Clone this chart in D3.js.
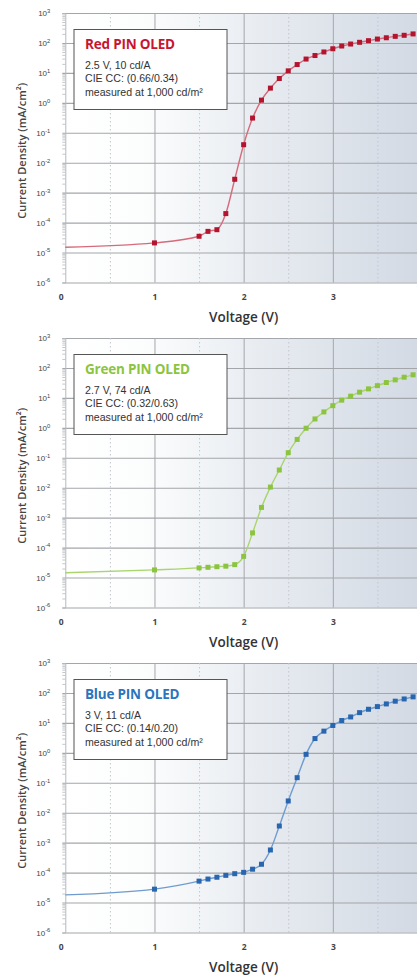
<!DOCTYPE html>
<html>
<head>
<meta charset="utf-8">
<script src="https://cdn.jsdelivr.net/npm/d3@7"></script>
<style>
  html, body { margin: 0; padding: 0; background: #ffffff; }
  svg { display: block; }
</style>
</head>
<body>
<script>
// Current density vs. voltage for three PIN OLED devices (log scale)
const voltage = [0, 1, 1.5, 1.6, 1.7, 1.8, 1.9, 2.0, 2.1, 2.2, 2.3, 2.4, 2.5, 2.6, 2.7,
                 2.8, 2.9, 3.0, 3.1, 3.2, 3.3, 3.4, 3.5, 3.6, 3.7, 3.8, 3.9];

const redDensity = [1.5e-5, 2.1e-5, 3.5e-5, 5.1e-5, 5.8e-5, 2.0e-4, 2.8e-3, 0.04, 0.31, 1.23, 3.1, 6.5,
                    11.7, 19, 29, 38, 50, 64, 79, 92, 105, 119, 135, 149, 166, 180, 200];
const greenDensity = [1.45e-5, 1.8e-5, 2.1e-5, 2.2e-5, 2.3e-5, 2.4e-5, 2.7e-5, 5.1e-5, 3.1e-4, 2.2e-3,
                      0.0105, 0.039, 0.148, 0.41, 0.97, 1.98, 3.4, 5.5, 8.4, 11.4, 15.5, 20, 25.6,
                      32.6, 40, 49, 59];
const blueDensity = [1.8e-5, 2.8e-5, 5.2e-5, 6.1e-5, 7.0e-5, 8.1e-5, 9.2e-5, 1.02e-4, 1.3e-4, 1.9e-4,
                     5.7e-4, 3.6e-3, 0.0247, 0.148, 0.89, 3.0, 5.3, 8.2, 12, 15.8, 22, 28.5, 35, 43,
                     53, 63, 74];

const deviceTitles = ["Red PIN OLED", "Green PIN OLED", "Blue PIN OLED"];
const deviceNotes = [
  ["2.5 V, 10 cd/A", "CIE CC: (0.66/0.34)", "measured at 1,000 cd/m²"],
  ["2.7 V, 74 cd/A", "CIE CC: (0.32/0.63)", "measured at 1,000 cd/m²"],
  ["3 V, 11 cd/A", "CIE CC: (0.14/0.20)", "measured at 1,000 cd/m²"]
];
const deviceSeries = [redDensity, greenDensity, blueDensity];

const yTickExponents = [3, 2, 1, 0, -1, -2, -3, -4, -5, -6];
const xTickValues = [0, 1, 2, 3];
const xHalfTicks = [0.5, 1.5, 2.5, 3.5];
const xAxisTitle = "Voltage (V)";
const yAxisTitle = "Current Density (mA/cm²)";

// colours per device: title, marker, connecting line
const titleColors = ["#c8152f", "#8cc43f", "#2c74bc"];
const markerColors = ["#b3142e", "#8cc43f", "#2866b0"];
const lineColors = ["#d56b7b", "#a9d46e", "#6f9bcf"];

const W = 417, H = 975;
const panelTop = 13, panelStep = 325, panelH = 269.5;
const plotLeft = 65.3, plotRight = 422;

const svg = d3.select("body").append("svg")
  .attr("width", W).attr("height", H)
  .style("overflow", "hidden");

const defs = svg.append("defs");
const grad = defs.append("linearGradient")
  .attr("id", "plotBg")
  .attr("x1", "0").attr("x2", "1").attr("y1", "0").attr("y2", "0");
[[0, "#ffffff"], [0.22, "#fcfdfd"], [0.55, "#e8ecf1"], [1, "#d3dae4"]].forEach(([o, c]) =>
  grad.append("stop").attr("offset", o).attr("stop-color", c));

const x = d3.scaleLinear().domain([0, 4]).range([plotLeft, plotRight]);
const y = d3.scaleLog().domain([1e-6, 1e3]).range([panelH, 0]);

const majors = yTickExponents.map(e => Math.pow(10, e));
const minors = [];
for (let e = -6; e < 3; e++) for (let m = 2; m <= 9; m++) minors.push(m * Math.pow(10, e));

deviceSeries.forEach((series, i) => {
  const g = svg.append("g").attr("transform", `translate(0,${panelTop + i * panelStep})`);

  // plot background
  g.append("rect")
    .attr("x", plotLeft).attr("y", 0)
    .attr("width", W - plotLeft).attr("height", panelH)
    .attr("fill", "url(#plotBg)");

  // horizontal decade grid
  const hGrid = g.append("g").attr("transform", `translate(${plotLeft},0)`)
    .call(d3.axisLeft(y).tickValues(majors).tickSize(-(W - plotLeft + 3)).tickFormat(""));
  hGrid.select(".domain").remove();
  hGrid.selectAll("line").attr("x1", 3 + W).attr("x2", -3)
    .attr("stroke", "#a3a6aa").attr("stroke-width", 1.1);

  // vertical grid: solid at whole volts, dotted at half volts
  const vGrid = g.append("g").attr("transform", `translate(0,${panelH})`)
    .call(d3.axisBottom(x).tickValues([1, 2, 3]).tickSize(-panelH).tickFormat(""));
  vGrid.select(".domain").remove();
  vGrid.selectAll("line").attr("stroke", "#a3a6aa").attr("stroke-width", 1);

  const vHalf = g.append("g").attr("transform", `translate(0,${panelH})`)
    .call(d3.axisBottom(x).tickValues(xHalfTicks).tickSize(-panelH).tickFormat(""));
  vHalf.select(".domain").remove();
  vHalf.selectAll("line").attr("stroke", "#c3c6cb").attr("stroke-width", 1)
    .attr("stroke-dasharray", "1.5,2.5");

  // left axis with minor log ticks
  const minorAxis = g.append("g").attr("transform", `translate(${plotLeft},0)`)
    .call(d3.axisLeft(y).tickValues(minors).tickSize(3).tickFormat(""));
  minorAxis.select(".domain").attr("stroke", "#b5b8bc");
  minorAxis.selectAll("line").attr("stroke", "#b5b8bc").attr("stroke-width", 0.8);

  // y tick labels 10^n
  const yLab = g.append("g").attr("transform", `translate(${plotLeft},0)`)
    .call(d3.axisLeft(y).tickValues(majors).tickSize(0).tickPadding(15).tickFormat(""));
  yLab.select(".domain").remove();
  yLab.selectAll("text").each(function (d) {
    const t = d3.select(this)
      .attr("fill", "#444")
      .style("font-family", "'Liberation Sans', Arial, sans-serif")
      .style("font-size", "8px");
    t.append("tspan").text("10");
    t.append("tspan").attr("dy", "-3.2").style("font-size", "5.8px")
      .text(String(Math.round(Math.log10(d))));
  });

  // x tick labels
  const xLab = g.append("g").attr("transform", `translate(0,${panelH})`)
    .call(d3.axisBottom(x).tickValues(xTickValues).tickSize(0).tickPadding(11.5)
      .tickFormat(d3.format("d")));
  xLab.select(".domain").remove();
  xLab.selectAll("text")
    .attr("fill", "#444")
    .attr("dx", d => d === 0 ? -4.5 : 0)
    .style("font-family", "'Open Sans', sans-serif")
    .style("font-weight", "700")
    .style("font-size", "8.5px");

  // axis titles
  g.append("text")
    .attr("x", x(2)).attr("y", panelH + 39)
    .attr("text-anchor", "middle")
    .attr("fill", "#333")
    .style("font-family", "'Open Sans', sans-serif")
    .style("font-weight", "600")
    .style("font-size", "13.5px")
    .text(xAxisTitle);

  g.append("text")
    .attr("transform", `translate(26,${panelH / 2 + 3}) rotate(-90)`)
    .attr("text-anchor", "middle")
    .attr("fill", "#444")
    .style("font-family", "'Open Sans', sans-serif")
    .style("font-weight", "600")
    .style("font-size", "11px")
    .text(yAxisTitle);

  // data: line and square markers
  const pts = voltage.map((v, k) => ({ v, j: series[k] }));
  const line = d3.line().x(d => x(d.v)).y(d => y(d.j)).curve(d3.curveMonotoneX);
  g.append("path")
    .datum(pts)
    .attr("d", line)
    .attr("fill", "none")
    .attr("stroke", lineColors[i])
    .attr("stroke-width", 1.4);

  const ms = 5;
  g.selectAll("rect.marker")
    .data(pts.filter(d => d.v > 0))
    .join("rect")
    .attr("class", "marker")
    .attr("x", d => x(d.v) - ms / 2)
    .attr("y", d => y(d.j) - ms / 2)
    .attr("width", ms).attr("height", ms)
    .attr("fill", markerColors[i]);

  // device info box
  const box = g.append("g").attr("transform", "translate(74,16.5)");
  box.append("rect")
    .attr("width", 153).attr("height", 80)
    .attr("fill", "#ffffff")
    .attr("stroke", "#555")
    .attr("stroke-width", 1);
  box.append("text")
    .attr("x", 11).attr("y", 19)
    .attr("fill", titleColors[i])
    .style("font-family", "'Open Sans', sans-serif")
    .style("font-weight", "700")
    .style("font-size", "13.5px")
    .style("letter-spacing", "-0.2px")
    .text(deviceTitles[i]);
  box.selectAll("text.note")
    .data(deviceNotes[i])
    .join("text")
    .attr("class", "note")
    .attr("x", 11)
    .attr("y", (d, k) => 39 + k * 13.5)
    .attr("fill", "#333")
    .style("font-family", "'Liberation Sans', Arial, sans-serif")
    .style("font-size", "10.6px")
    .text(d => d);
});
</script>
</body>
</html>
